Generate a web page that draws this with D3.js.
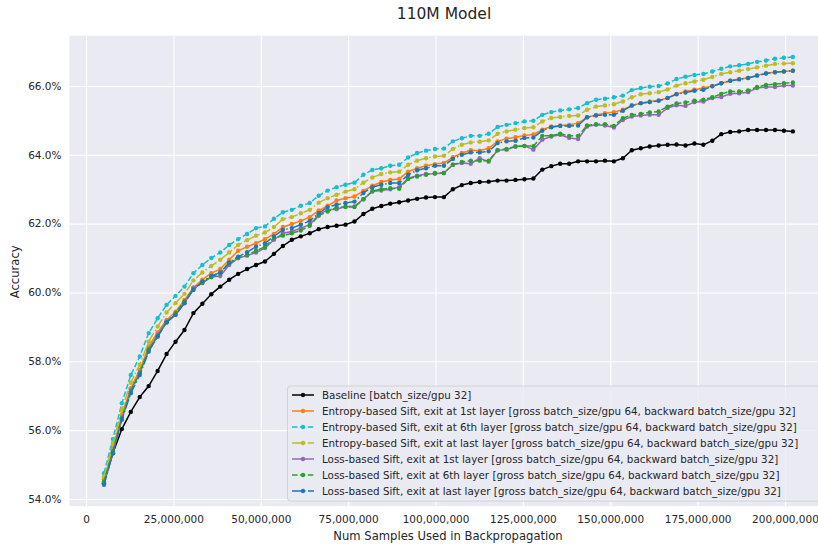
<!DOCTYPE html>
<html>
<head>
<meta charset="utf-8">
<script src="https://cdn.jsdelivr.net/npm/d3@7"></script>
<style>
  body { margin: 0; background: #fff; }
  text { font-family: "DejaVu Sans", sans-serif; fill: #262626; }
</style>
</head>
<body>
<script>
'use strict';

// samples used in backprop, in millions
const samplesM = [5.12, 7.68, 10.24, 12.80, 15.36, 17.92, 20.48, 23.04, 25.60, 28.16,
  30.72, 33.28, 35.84, 38.40, 40.96, 43.52, 46.08, 48.64, 51.20, 53.76,
  56.32, 58.88, 61.44, 64.00, 66.56, 69.12, 71.68, 74.24, 76.80, 79.36,
  81.92, 84.48, 87.04, 89.60, 92.16, 94.72, 97.28, 99.84, 102.40, 104.96,
  107.52, 110.08, 112.64, 115.20, 117.76, 120.32, 122.88, 125.44, 128.00, 130.56,
  133.12, 135.68, 138.24, 140.80, 143.36, 145.92, 148.48, 151.04, 153.60, 156.16,
  158.72, 161.28, 163.84, 166.40, 168.96, 171.52, 174.08, 176.64, 179.20, 181.76,
  184.32, 186.88, 189.44, 192.00, 194.56, 197.12, 199.68, 202.24];

const baseline = [54.46, 55.33, 56.03, 56.53, 56.96, 57.28, 57.72, 58.21, 58.57, 58.91,
  59.40, 59.67, 59.95, 60.17, 60.37, 60.54, 60.68, 60.80, 60.90, 61.12,
  61.35, 61.53, 61.63, 61.72, 61.84, 61.90, 61.94, 61.97, 62.06, 62.28,
  62.43, 62.51, 62.58, 62.62, 62.67, 62.72, 62.76, 62.77, 62.77, 63.00,
  63.12, 63.18, 63.21, 63.22, 63.25, 63.25, 63.27, 63.29, 63.31, 63.57,
  63.67, 63.74, 63.74, 63.81, 63.81, 63.81, 63.83, 63.81, 63.90, 64.13,
  64.19, 64.24, 64.27, 64.29, 64.30, 64.27, 64.33, 64.29, 64.41, 64.60,
  64.66, 64.68, 64.72, 64.72, 64.72, 64.72, 64.70, 64.68];

const entropy1st = [54.57, 55.47, 56.44, 57.22, 57.75, 58.43, 58.84, 59.20, 59.44, 59.78,
  60.14, 60.37, 60.56, 60.68, 60.95, 61.21, 61.33, 61.43, 61.55, 61.70,
  61.90, 61.99, 62.08, 62.19, 62.38, 62.52, 62.67, 62.74, 62.79, 62.95,
  63.10, 63.21, 63.27, 63.30, 63.51, 63.61, 63.68, 63.73, 63.76, 63.93,
  64.05, 64.13, 64.12, 64.19, 64.39, 64.47, 64.51, 64.56, 64.59, 64.73,
  64.82, 64.85, 64.87, 64.92, 65.09, 65.16, 65.21, 65.24, 65.31, 65.43,
  65.50, 65.55, 65.58, 65.65, 65.77, 65.84, 65.89, 65.94, 66.00, 66.08,
  66.15, 66.20, 66.23, 66.31, 66.37, 66.40, 66.42, 66.44];

const entropy6th = [54.75, 55.74, 56.78, 57.60, 58.14, 58.82, 59.25, 59.64, 59.90, 60.17,
  60.56, 60.80, 61.00, 61.16, 61.38, 61.55, 61.70, 61.87, 61.92, 62.14,
  62.33, 62.40, 62.52, 62.60, 62.81, 62.96, 63.06, 63.13, 63.19, 63.42,
  63.56, 63.61, 63.68, 63.71, 63.92, 64.05, 64.12, 64.17, 64.18, 64.39,
  64.48, 64.55, 64.55, 64.61, 64.81, 64.87, 64.92, 64.97, 64.99, 65.16,
  65.24, 65.29, 65.32, 65.36, 65.50, 65.60, 65.63, 65.67, 65.72, 65.88,
  65.94, 65.98, 66.00, 66.07, 66.20, 66.27, 66.32, 66.35, 66.42, 66.50,
  66.57, 66.60, 66.64, 66.70, 66.74, 66.79, 66.82, 66.84];

const entropyLast = [54.65, 55.62, 56.59, 57.38, 57.90, 58.57, 59.01, 59.42, 59.69, 59.96,
  60.35, 60.58, 60.77, 60.95, 61.16, 61.38, 61.52, 61.65, 61.74, 61.90,
  62.13, 62.19, 62.30, 62.40, 62.61, 62.74, 62.84, 62.93, 63.00, 63.19,
  63.34, 63.44, 63.49, 63.51, 63.71, 63.83, 63.90, 63.95, 63.97, 64.17,
  64.29, 64.36, 64.38, 64.42, 64.61, 64.68, 64.73, 64.78, 64.80, 64.97,
  65.07, 65.10, 65.13, 65.14, 65.31, 65.40, 65.43, 65.47, 65.55, 65.67,
  65.76, 65.79, 65.82, 65.90, 66.01, 66.08, 66.13, 66.18, 66.26, 66.35,
  66.40, 66.44, 66.49, 66.54, 66.59, 66.64, 66.65, 66.66];

const loss1st = [54.47, 55.35, 56.32, 57.17, 57.65, 58.33, 58.77, 59.16, 59.35, 59.69,
  60.14, 60.27, 60.45, 60.48, 60.80, 61.00, 61.07, 61.16, 61.29, 61.53,
  61.72, 61.77, 61.87, 61.97, 62.26, 62.40, 62.42, 62.50, 62.50, 62.71,
  62.93, 62.96, 63.00, 63.06, 63.32, 63.39, 63.44, 63.45, 63.47, 63.71,
  63.76, 63.74, 63.90, 63.80, 64.13, 64.15, 64.24, 64.26, 64.15, 64.44,
  64.53, 64.58, 64.49, 64.46, 64.82, 64.87, 64.85, 64.79, 65.01, 65.11,
  65.14, 65.16, 65.16, 65.36, 65.44, 65.42, 65.53, 65.55, 65.65, 65.68,
  65.77, 65.79, 65.82, 65.94, 65.97, 65.97, 66.01, 66.01];

const loss6th = [54.50, 55.38, 56.35, 57.12, 57.67, 58.35, 58.72, 59.13, 59.40, 59.74,
  60.08, 60.29, 60.45, 60.56, 60.85, 61.00, 61.09, 61.21, 61.33, 61.58,
  61.65, 61.72, 61.80, 61.94, 62.23, 62.35, 62.47, 62.48, 62.48, 62.71,
  62.95, 63.00, 63.03, 63.01, 63.30, 63.37, 63.42, 63.47, 63.47, 63.71,
  63.79, 63.83, 63.83, 63.83, 64.13, 64.17, 64.24, 64.26, 64.25, 64.55,
  64.55, 64.61, 64.55, 64.55, 64.85, 64.89, 64.89, 64.84, 65.06, 65.16,
  65.19, 65.23, 65.26, 65.40, 65.49, 65.52, 65.57, 65.60, 65.67, 65.77,
  65.84, 65.84, 65.87, 65.97, 66.03, 66.05, 66.08, 66.10];

const lossLast = [54.41, 55.33, 56.30, 57.07, 57.60, 58.28, 58.72, 59.13, 59.35, 59.69,
  60.08, 60.32, 60.48, 60.58, 60.87, 61.04, 61.17, 61.33, 61.43, 61.63,
  61.82, 61.87, 61.97, 62.08, 62.30, 62.48, 62.55, 62.60, 62.64, 62.89,
  63.06, 63.13, 63.18, 63.18, 63.42, 63.55, 63.61, 63.68, 63.68, 63.88,
  64.00, 64.07, 64.07, 64.10, 64.34, 64.39, 64.41, 64.49, 64.50, 64.70,
  64.80, 64.84, 64.84, 64.85, 65.09, 65.14, 65.16, 65.16, 65.28, 65.43,
  65.50, 65.53, 65.57, 65.65, 65.76, 65.81, 65.86, 65.89, 65.99, 66.08,
  66.15, 66.19, 66.23, 66.30, 66.36, 66.40, 66.42, 66.44];

const seriesNames = [
  "Baseline [batch_size/gpu 32]",
  "Entropy-based Sift, exit at 1st layer [gross batch_size/gpu 64, backward batch_size/gpu 32]",
  "Entropy-based Sift, exit at 6th layer [gross batch_size/gpu 64, backward batch_size/gpu 32]",
  "Entropy-based Sift, exit at last layer [gross batch_size/gpu 64, backward batch_size/gpu 32]",
  "Loss-based Sift, exit at 1st layer [gross batch_size/gpu 64, backward batch_size/gpu 32]",
  "Loss-based Sift, exit at 6th layer [gross batch_size/gpu 64, backward batch_size/gpu 32]",
  "Loss-based Sift, exit at last layer [gross batch_size/gpu 64, backward batch_size/gpu 32]"
];
const seriesValues = [baseline, entropy1st, entropy6th, entropyLast, loss1st, loss6th, lossLast];

const xTicks = [0, 25, 50, 75, 100, 125, 150, 175, 200];
const yTicks = [54, 56, 58, 60, 62, 64, 66];

// styling per series
const colors = ["#000000", "#ff7f0e", "#17becf", "#bcbd22", "#9467bd", "#2ca02c", "#1f77b4"];
const dashes = [null, null, "5.5,2.4", "9.6,2.4,1.5,2.4", null, "5.5,2.4", "9.6,2.4,1.5,2.4"];

const W = 818, H = 547;
const plot = {left: 69.5, right: 827.3, top: 35.7, bottom: 506.2};

const svg = d3.select("body").append("svg")
  .attr("width", W)
  .attr("height", H);

const x = d3.scaleLinear()
  .domain([-4.736, 212.1])
  .range([plot.left, plot.right]);

const y = d3.scaleLinear()
  .domain([53.79, 67.46])
  .range([plot.bottom, plot.top]);

// background
svg.append("rect")
  .attr("x", plot.left)
  .attr("y", plot.top)
  .attr("width", plot.right - plot.left)
  .attr("height", plot.bottom - plot.top)
  .attr("fill", "#eaeaf2");

svg.append("clipPath").attr("id", "clip")
  .append("rect")
  .attr("x", plot.left)
  .attr("y", plot.top)
  .attr("width", plot.right - plot.left)
  .attr("height", plot.bottom - plot.top);

// grid lines
const xAxis = d3.axisBottom(x)
  .tickValues(xTicks)
  .tickSize(-(plot.bottom - plot.top))
  .tickPadding(9)
  .tickFormat(d => d3.format(",")(d * 1e6));

const gx = svg.append("g")
  .attr("transform", "translate(0," + plot.bottom + ")")
  .call(xAxis);
gx.select(".domain").remove();
gx.selectAll("line").attr("stroke", "#fff").attr("stroke-width", 1.1);
gx.selectAll("text")
  .style("font-size", "10.5px")
  .style("font-family", "DejaVu Sans")
  .attr("fill", "#262626");

const yAxis = d3.axisLeft(y)
  .tickValues(yTicks)
  .tickSize(-(plot.right - plot.left))
  .tickPadding(8)
  .tickFormat(d => d.toFixed(1) + "%");

const gy = svg.append("g")
  .attr("transform", "translate(" + plot.left + ",0)")
  .call(yAxis);
gy.select(".domain").remove();
gy.selectAll("line").attr("stroke", "#fff").attr("stroke-width", 1.1);
gy.selectAll("text")
  .style("font-size", "10.5px")
  .style("font-family", "DejaVu Sans")
  .attr("fill", "#262626");

// lines and markers
const line = d3.line()
  .x((d, i) => x(samplesM[i]))
  .y(d => y(d));

const lines = svg.append("g").attr("clip-path", "url(#clip)");

seriesValues.forEach((vals, s) => {
  const g = lines.append("g");
  g.append("path")
    .datum(vals)
    .attr("fill", "none")
    .attr("stroke", colors[s])
    .attr("stroke-width", 1.5)
    .attr("stroke-linejoin", "round")
    .attr("stroke-dasharray", dashes[s])
    .attr("d", line);
  g.selectAll("circle")
    .data(vals)
    .enter()
    .append("circle")
    .attr("cx", (d, i) => x(samplesM[i]))
    .attr("cy", d => y(d))
    .attr("r", 2.2)
    .attr("fill", colors[s]);
});

// legend
const leg = svg.append("g");
leg.append("rect")
  .attr("x", 287.5)
  .attr("y", 386)
  .attr("width", 536)
  .attr("height", 115)
  .attr("rx", 3)
  .attr("fill", "#eaeaf2")
  .attr("fill-opacity", 0.8)
  .attr("stroke", "#cccccc")
  .attr("stroke-width", 0.8);

seriesNames.forEach((name, s) => {
  const ly = 395 + s * 16;
  leg.append("line")
    .attr("x1", 292)
    .attr("x2", 314)
    .attr("y1", ly)
    .attr("y2", ly)
    .attr("stroke", colors[s])
    .attr("stroke-width", 1.5)
    .attr("stroke-dasharray", dashes[s]);
  leg.append("circle")
    .attr("cx", 303)
    .attr("cy", ly)
    .attr("r", 2.2)
    .attr("fill", colors[s]);
  leg.append("text")
    .attr("x", 322)
    .attr("y", ly)
    .attr("dy", "0.35em")
    .style("font-size", "10.35px")
    .text(name);
});

// title and axis labels
svg.append("text")
  .attr("x", 444)
  .attr("y", 19)
  .attr("text-anchor", "middle")
  .style("font-size", "15.5px")
  .text("110M Model");

svg.append("text")
  .attr("x", 448)
  .attr("y", 540)
  .attr("text-anchor", "middle")
  .style("font-size", "11.6px")
  .text("Num Samples Used in Backpropagation");

svg.append("text")
  .attr("transform", "translate(19," + y(60.6) + ")rotate(-90)")
  .attr("text-anchor", "middle")
  .style("font-size", "11.6px")
  .text("Accuracy");
</script>
</body>
</html>
